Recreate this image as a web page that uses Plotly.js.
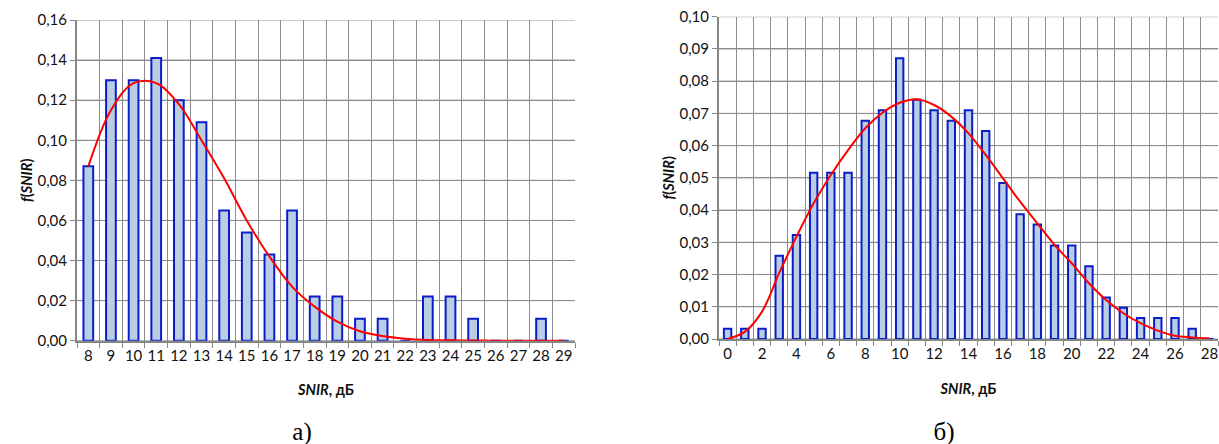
<!DOCTYPE html>
<html>
<head>
<meta charset="utf-8">
<script src="https://cdn.plot.ly/plotly-3.0.1.min.js"></script>
<style>
html,body{margin:0;padding:0;background:#fff;}
#wrap{position:relative;width:1219px;height:444px;overflow:hidden;}
#chartA{position:absolute;left:0;top:0;width:640px;height:444px;}
#chartB{position:absolute;left:640px;top:0;width:579px;height:444px;}
.cap{position:absolute;top:431px;transform:translate(-50%,-50%);font-family:"Liberation Serif","Times New Roman",serif;font-size:25px;color:#000;line-height:1;white-space:nowrap;}
</style>
</head>
<body>
<div id="wrap"><div id="chartA"></div><div id="chartB"></div>
<div class="cap" id="capA" style="left:302px"></div><div class="cap" id="capB" style="left:944px"></div></div>
<script>
// ---- Chart а) ----
const catsA = [8,9,10,11,12,13,14,15,16,17,18,19,20,21,22,23,24,25,26,27,28,29];
const histA = [0.087,0.130,0.130,0.141,0.120,0.109,0.065,0.054,0.043,0.065,0.022,0.022,0.011,0.011,0,0.022,0.022,0.011,0,0,0.011,0];
const fitA  = [0.087,0.115,0.1285,0.1285,0.118,0.100,0.081,0.060,0.042,0.027,0.017,0.0095,0.0047,0.0023,0.001,0.0004,0.0002,0.0001,0,0,0,0];
const labelsA = ['8','9','10','11','12','13','14','15','16','17','18','19','20','21','22','23','24','25','26','27','28','29'];
const yTicksA = [0,0.02,0.04,0.06,0.08,0.10,0.12,0.14,0.16];

// ---- Chart б) ----
const catsB = [0,1,2,3,4,5,6,7,8,9,10,11,12,13,14,15,16,17,18,19,20,21,22,23,24,25,26,27,28];
const histB = [0.0032,0.0032,0.0032,0.0258,0.0323,0.0516,0.0516,0.0516,0.0677,0.0710,0.0871,0.0742,0.0710,0.0677,0.0710,0.0645,0.0484,0.0387,0.0355,0.0290,0.0290,0.0226,0.0129,0.0097,0.0065,0.0065,0.0065,0.0032,0];
const fitB  = [0,0.0022,0.0085,0.0205,0.0317,0.0421,0.0509,0.0586,0.0654,0.0702,0.0733,0.0744,0.0726,0.069,0.0638,0.0571,0.0499,0.0426,0.0359,0.0292,0.0235,0.0173,0.0121,0.008,0.0049,0.0026,0.001,0.0005,0.0002];
const labelsB = ['0','','2','','4','','6','','8','','10','','12','','14','','16','','18','','20','','22','','24','','26','','28'];
const yTicksB = [0,0.01,0.02,0.03,0.04,0.05,0.06,0.07,0.08,0.09,0.10];

const yTitle = '<b><i>f</i>(<i>SNIR</i>)</b>';
const xTitle = '<b><i>SNIR</i>, дБ</b>';
const captions = ['а)', 'б)'];

const barFill = '#b9cde5', barLine = '#0a1ec8', fitColor = '#ff0000';
const gridC = '#8c8c8c', axisC = '#868686';
const tickFont = {family: 'Lato, "Open Sans", sans-serif', size: 15, color: '#111'};
const titleFont = {family: 'Lato, "Open Sans", sans-serif', size: 14.5, color: '#111'};

document.getElementById('capA').textContent = captions[0];
document.getElementById('capB').textContent = captions[1];

function makeTraces(cats, hist, fit) {
  return [
    {type:'bar', x: cats, y: hist, width: 0.43,
     marker:{color: barFill, line:{color: barLine, width: 2}}},
    {type:'scatter', mode:'lines', x: cats, y: fit,
     line:{color: fitColor, width: 2, shape:'spline', smoothing: 1}}
  ];
}

function makeLayout(W, xDom, yDom, cats, labels, yTicks, ymax, dtick, suffix) {
  // horizontal gridlines at the value-axis ticks (drawn below the data)
  const hGrid = yTicks.map(function(v){
    return {type:'line', layer:'below', xref:'paper', yref:'y', x0: xDom[0], x1: xDom[1], y0: v, y1: v,
            line:{color: gridC, width: 1}};
  });
  return {
    width: W, height: 444,
    margin: {l: 0, r: 0, t: 0, b: 0},
    separators: ', ',
    showlegend: false,
    shapes: hGrid,
    xaxis: {
      domain: xDom, type: 'category', anchor: 'y',
      categoryorder: 'array', categoryarray: cats,
      tickmode: 'array', tickvals: cats, ticktext: labels,
      tickson: 'boundaries', ticks: 'outside', ticklen: 5, tickcolor: axisC,
      showgrid: true, gridcolor: gridC,
      showline: true, linecolor: axisC, linewidth: 2,
      zeroline: false, tickfont: tickFont, tickangle: 0,
      title: {text: xTitle, font: titleFont}
    },
    yaxis: {
      domain: yDom, range: [0, ymax], tickmode: 'array', tickvals: yTicks, tickformat: '.2f', anchor: 'x',
      ticksuffix: suffix,
      ticks: 'outside', ticklen: 5, tickcolor: axisC,
      showgrid: true, gridcolor: gridC,
      showline: true, linecolor: axisC, linewidth: 2,
      zeroline: false, tickfont: tickFont,
      title: {text: yTitle, font: titleFont}
    }
  };
}

// chart а): plot area 77..575 px of a 640 px wide panel
Plotly.newPlot('chartA', makeTraces(catsA, histA, fitA),
  makeLayout(640, [77/640, 575/640], [(444-340.7)/444, (444-20)/444], catsA, labelsA, yTicksA, 0.16, 0.02, '\u00a0\u2009'),
  {staticPlot: true});

// chart б): plot area 719..1218 px of the page, panel starts at 640
Plotly.newPlot('chartB', makeTraces(catsB, histB, fitB),
  makeLayout(579, [79/579, 578/579], [(444-339)/444, (444-16.7)/444], catsB, labelsB, yTicksB, 0.10, 0.01, '\u00a0\u00a0'),
  {staticPlot: true});
</script>
</body>
</html>
